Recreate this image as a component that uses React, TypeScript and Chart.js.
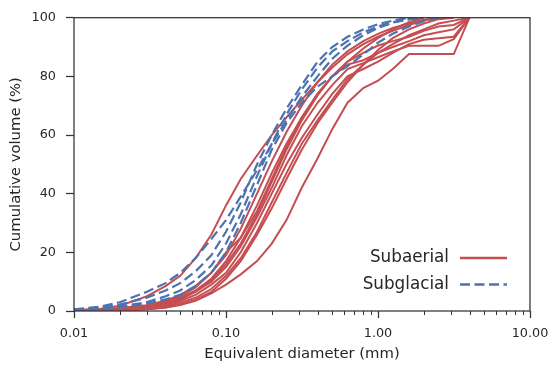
import React, { useEffect, useRef } from 'react';
import { Chart, registerables } from 'chart.js';

Chart.register(...registerables);

// ---- Data ----
const DIAMETERS = [0.01, 0.015, 0.02, 0.03, 0.04, 0.05, 0.063, 0.08, 0.1, 0.125, 0.16, 0.2, 0.25, 0.315, 0.4, 0.5, 0.63, 0.8, 1.0, 1.25, 1.6, 2.0, 2.5, 3.15, 4.0];

const SUBAERIAL_1 = [0.3, 0.8, 1.8, 5, 8.5, 12, 18, 26, 36, 45, 53, 60, 66, 72, 78, 83, 87.5, 91, 93.5, 95.5, 97.5, 99, 100, null, null];
const SUBAERIAL_2 = [0.2, 0.5, 1, 2, 3.5, 5.5, 8.5, 13, 19, 28, 40, 51, 61, 70, 78, 84, 88.5, 92, 94.5, 96.5, 98, 99.3, 100, null, null];
const SUBAERIAL_3 = [0.1, 0.3, 0.6, 1.5, 2.8, 4.5, 7, 11, 17, 25, 36, 47, 57, 66, 74, 80, 85, 88, 90.5, 92, 93.5, 95.5, 97, 97.5, 100];
const SUBAERIAL_4 = [0.1, 0.2, 0.5, 1.2, 2.3, 4, 6.5, 10, 15, 22, 32, 42, 53, 63, 71, 77, 82.5, 84.5, 86.5, 88.5, 90.4, 90.4, 90.4, 92.7, 100];
const SUBAERIAL_5 = [0.1, 0.2, 0.4, 1, 2, 3.5, 5.5, 9, 13, 20, 30, 40, 50, 59, 67, 74, 80, 82.5, 85, 88, 91, 92.5, 93, 93.5, 100];
const SUBAERIAL_6 = [0, 0.1, 0.3, 0.8, 1.6, 2.8, 4.5, 7.5, 12, 18, 27, 37, 47, 57, 65, 72, 79, 84, 88, 91, 94, 96, 98, 99, 100];
const SUBAERIAL_7 = [0.2, 0.4, 0.8, 1.8, 3.2, 5, 8, 13, 20, 25, 34, 45, 56, 66, 74, 80, 85, 89.5, 93, 96, 98.5, 100, null, null, null];
const SUBAERIAL_8 = [0.1, 0.3, 0.6, 1.4, 2.6, 4.2, 6.8, 10.5, 16, 23, 33, 44, 55, 65, 73.5, 80, 84, 85.5, 88, 90, 92, 94, 95, 96, 100];
const SUBAERIAL_9 = [0, 0.1, 0.2, 0.6, 1.2, 2, 3.5, 6, 9, 12.5, 17, 23, 31, 42, 52, 62, 71, 76, 78.5, 82.5, 87.6, 87.6, 87.6, 87.6, 100];
const SUBAERIAL_10 = [0, 0.1, 0.2, 0.6, 1.2, 2.2, 3.8, 6.5, 11, 17, 26, 35, 45, 55, 64, 71, 78, 84, 89, 93, 96, 98, 99.5, 100, null];

const SUBGLACIAL_1 = [0.6, 1.5, 3, 6.5, 9.5, 13, 18, 24.5, 31, 39, 48, 57, 65, 73, 80, 86, 90.5, 94, 96.5, 98.3, 99.5, 100, null, null, null];
const SUBGLACIAL_2 = [0.4, 1.2, 2.2, 4.5, 7, 9.5, 13.5, 19, 27, 37, 50, 60, 69, 77, 85, 90, 93.5, 96, 97.8, 99, 100, null, null, null, null];
const SUBGLACIAL_3 = [0.3, 0.8, 1.5, 3, 5, 7, 10.5, 15.5, 23, 33, 46, 57, 67, 75.5, 83, 88.5, 92, 95, 97, 98.5, 99.4, 100, null, null, null];
const SUBGLACIAL_4 = [0.2, 0.6, 1.2, 2.5, 4, 5.5, 8.5, 13, 20, 30, 43, 55, 64, 71, 76.5, 80, 83.5, 87.5, 91.5, 94.5, 97, 98.8, 100, null, null];

const X_TICKS = [0.01, 0.1, 1, 10];
const X_TICK_LABELS = ['0.01', '0.10', '1.00', '10.00'];
const X_MINOR_TICKS = [0.02, 0.03, 0.04, 0.05, 0.06, 0.07, 0.08, 0.09, 0.2, 0.3, 0.4, 0.5, 0.6, 0.7, 0.8, 0.9, 2, 3, 4, 5, 6, 7, 8, 9];
const Y_TICKS = [0, 20, 40, 60, 80, 100];

const GROUP_LABELS = ['Subaerial', 'Subglacial'];
const SUBAERIAL_SERIES = [SUBAERIAL_1, SUBAERIAL_2, SUBAERIAL_3, SUBAERIAL_4, SUBAERIAL_5, SUBAERIAL_6, SUBAERIAL_7, SUBAERIAL_8, SUBAERIAL_9, SUBAERIAL_10];
const SUBGLACIAL_SERIES = [SUBGLACIAL_1, SUBGLACIAL_2, SUBGLACIAL_3, SUBGLACIAL_4];

// ---- Styles ----
const RED = '#C44E52';
const BLUE = '#4C72B0';
const TEXT = '#262626';
const AXIS = '#333333';
const FONT = "'DejaVu Sans', 'Liberation Sans', sans-serif";
const DASH = [10, 4.5];

const toPoints = (s: (number | null)[]) =>
  DIAMETERS.map((d, i) => ({ x: d, y: s[i] })).filter((p) => p.y !== null);

const frameAndTicks = {
  id: 'frameAndTicks',
  afterDatasetsDraw(chart: any) {
    const { ctx, chartArea } = chart;
    const { left, right, top, bottom } = chartArea;
    const xs = chart.scales.x;
    ctx.save();
    ctx.strokeStyle = AXIS;
    ctx.lineWidth = 1;
    for (const v of X_MINOR_TICKS) {
      const px = Math.round(xs.getPixelForValue(v)) + 0.5;
      ctx.beginPath();
      ctx.moveTo(px, bottom);
      ctx.lineTo(px, bottom + 4);
      ctx.stroke();
    }
    ctx.lineWidth = 1.25;
    ctx.strokeRect(left, top, right - left, bottom - top);
    ctx.restore();
  },
};

const innerLegend = {
  id: 'innerLegend',
  afterDraw(chart: any) {
    const { ctx, chartArea } = chart;
    const textRight = chartArea.right - 81;
    const lineStart = chartArea.right - 70;
    const lineEnd = chartArea.right - 23;
    const y0 = chartArea.bottom - 53;
    const styles = [
      { color: RED, dash: [] as number[] },
      { color: BLUE, dash: DASH },
    ];
    ctx.save();
    ctx.font = `16.8px ${FONT}`;
    ctx.textAlign = 'right';
    ctx.textBaseline = 'middle';
    GROUP_LABELS.forEach((label, i) => {
      const y = y0 + i * 26.5;
      ctx.fillStyle = TEXT;
      ctx.fillText(label, textRight, y);
      ctx.strokeStyle = styles[i].color;
      ctx.lineWidth = 2.4;
      ctx.setLineDash(styles[i].dash);
      ctx.beginPath();
      ctx.moveTo(lineStart, y);
      ctx.lineTo(lineEnd, y);
      ctx.stroke();
    });
    ctx.restore();
  },
};

export default function App() {
  const canvasRef = useRef<HTMLCanvasElement | null>(null);

  useEffect(() => {
    if (!canvasRef.current) return;
    const datasets: any[] = [];
    SUBGLACIAL_SERIES.forEach((s, i) =>
      datasets.push({
        label: GROUP_LABELS[1] + ' ' + (i + 1),
        data: toPoints(s),
        borderColor: BLUE,
        borderWidth: 2.2,
        borderDash: DASH,
        pointRadius: 0,
        tension: 0,
        fill: false,
        order: 0,
      })
    );
    SUBAERIAL_SERIES.forEach((s, i) =>
      datasets.push({
        label: GROUP_LABELS[0] + ' ' + (i + 1),
        data: toPoints(s),
        borderColor: RED,
        borderWidth: 2,
        pointRadius: 0,
        tension: 0,
        fill: false,
        order: 1,
      })
    );

    const chart = new Chart(canvasRef.current, {
      type: 'line',
      data: { datasets },
      options: {
        animation: false,
        responsive: false,
        maintainAspectRatio: false,
        layout: { padding: { left: 0, right: 30, top: 15, bottom: 0 } },
        plugins: { legend: { display: false }, tooltip: { enabled: false } },
        scales: {
          x: {
            type: 'logarithmic',
            min: 0.01,
            max: 10,
            afterBuildTicks: (scale: any) => {
              scale.ticks = X_TICKS.map((v) => ({ value: v, major: true }));
            },
            afterFit: (scale: any) => {
              scale.height = 61;
            },
            ticks: {
              autoSkip: false,
              maxRotation: 0,
              padding: 8,
              color: TEXT,
              font: { family: FONT, size: 12.8 },
              callback: (_v: any, i: number) => X_TICK_LABELS[i],
            },
            grid: {
              display: true,
              drawOnChartArea: false,
              drawTicks: true,
              tickLength: 7,
              tickWidth: 1.25,
              tickColor: AXIS,
            },
            border: { display: false },
            title: {
              display: true,
              text: 'Equivalent diameter (mm)',
              color: TEXT,
              font: { family: FONT, size: 14.8 },
              padding: { top: 0, bottom: 9 },
            },
          },
          y: {
            type: 'linear',
            min: 0,
            max: 100,
            afterBuildTicks: (scale: any) => {
              scale.ticks = Y_TICKS.map((v) => ({ value: v }));
            },
            afterFit: (scale: any) => {
              scale.width = 74;
            },
            ticks: {
              padding: 10,
              color: TEXT,
              font: { family: FONT, size: 12.8 },
            },
            grid: {
              display: true,
              drawOnChartArea: false,
              drawTicks: true,
              tickLength: 8,
              tickWidth: 1.25,
              tickColor: AXIS,
            },
            border: { display: false },
            title: {
              display: true,
              text: 'Cumulative volume (%)',
              color: TEXT,
              font: { family: FONT, size: 14.8 },
              padding: { top: 7, bottom: 0 },
            },
          },
        },
      },
      plugins: [frameAndTicks, innerLegend],
    } as any);

    return () => chart.destroy();
  }, []);

  return (
    <div style={{ position: 'absolute', left: 0, top: 0, width: 560, height: 372, background: '#fff' }}>
      <canvas ref={canvasRef} width={560} height={372} style={{ display: 'block' }} />
    </div>
  );
}
